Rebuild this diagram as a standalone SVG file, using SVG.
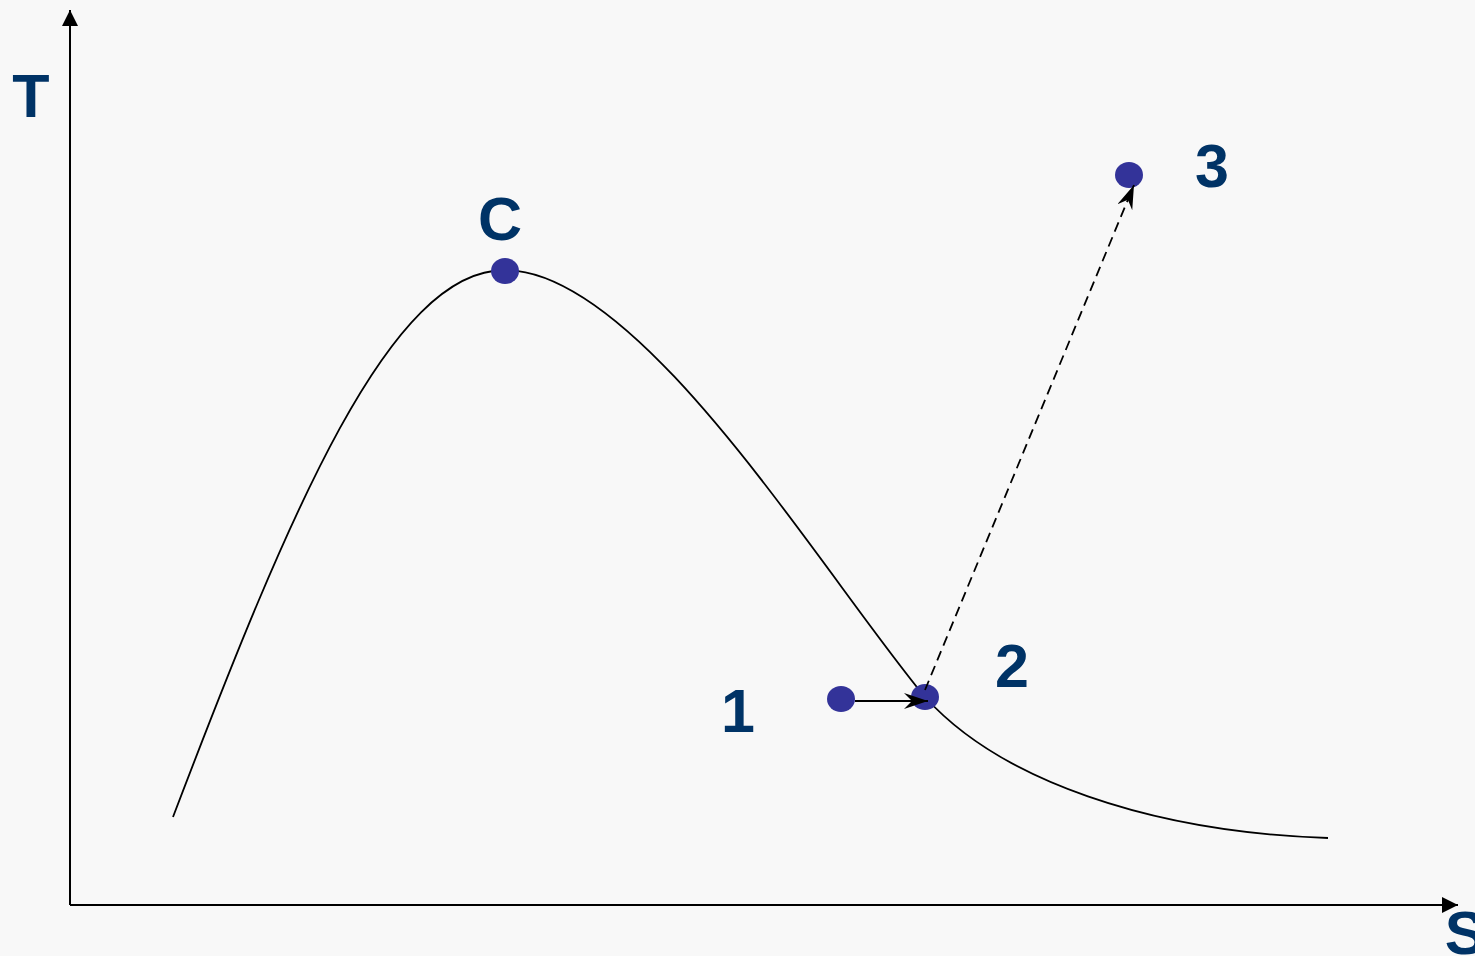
<svg xmlns="http://www.w3.org/2000/svg" width="1475" height="956" viewBox="0 0 1475 956">
<style>
.lbl{font-family:"Liberation Sans",Arial,sans-serif;font-weight:bold;font-size:61px;fill:#003366;text-anchor:middle}
.dot{fill:#333399}
.ax{stroke:#000;stroke-width:2;fill:none}
.ln{stroke:#000;stroke-width:1.8;fill:none}
</style>
<defs>
<marker id="tri" markerWidth="16" markerHeight="16" refX="16" refY="8" orient="auto" markerUnits="userSpaceOnUse" viewBox="0 0 16 16">
<path d="M0,0 L16,8 L0,16 z" fill="#000"/>
</marker>
<marker id="barb" markerWidth="26" markerHeight="16" refX="24" refY="8" orient="auto" markerUnits="userSpaceOnUse" viewBox="0 0 26 16">
<path d="M0,0 L24,8 L0,16 L8,8 z" fill="#000"/>
</marker>
</defs>
<rect width="1475" height="956" fill="#f8f8f8"/>
<g id="axes">
<line class="ax" x1="70" y1="905" x2="70" y2="10" marker-end="url(#tri)"/>
<line class="ax" x1="70" y1="905" x2="1458" y2="905" marker-end="url(#tri)"/>
</g>
<g id="curve">
<path class="ln" d="M173,817 C290,510 390,270 505,270 C640,270 820,570 925,697 C1000,780 1150,832 1328,838"/>
</g>
<g id="node-C"><ellipse class="dot" cx="505" cy="271" rx="14" ry="13"/><text class="lbl" x="500" y="240">C</text></g>
<g id="node-1"><ellipse class="dot" cx="841" cy="699" rx="14" ry="13"/><text class="lbl" x="738" y="732">1</text></g>
<g id="node-2"><ellipse class="dot" cx="925" cy="697" rx="14" ry="13"/><text class="lbl" x="1012" y="687">2</text></g>
<g id="node-3"><ellipse class="dot" cx="1129" cy="175" rx="14" ry="13"/><text class="lbl" x="1212" y="187">3</text></g>
<g id="label-T"><text class="lbl" x="31" y="117">T</text></g>
<g id="label-S"><text class="lbl" x="1465" y="954">S</text></g>
<g id="connectors">
<line class="ln" x1="855" y1="701" x2="928" y2="701" marker-end="url(#barb)"/>
<line class="ln" x1="925" y1="690" x2="1134" y2="185" stroke-dasharray="10,6" marker-end="url(#barb)"/>
</g>
</svg>
